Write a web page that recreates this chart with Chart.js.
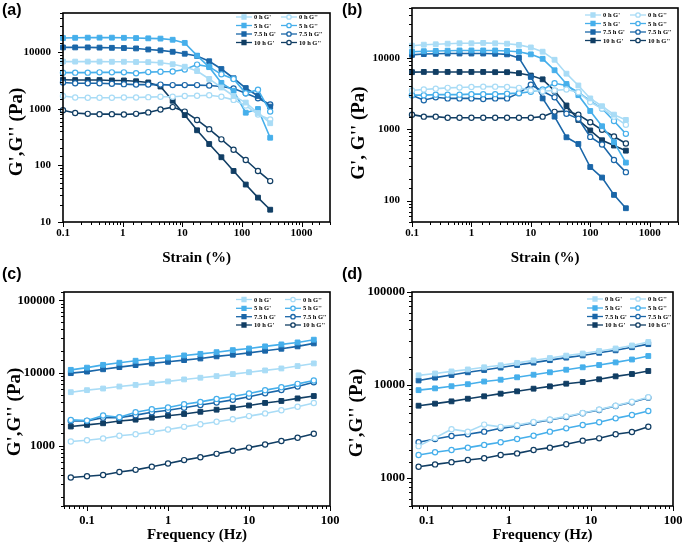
<!DOCTYPE html>
<html>
<head>
<meta charset="utf-8">
<script src="https://cdn.jsdelivr.net/npm/chart.js@4.4.1/dist/chart.umd.min.js"></script>
<style>
  html, body { margin: 0; padding: 0; background: #fff; }
  #wrap { position: relative; width: 685px; height: 552px; overflow: hidden; }
  canvas { position: absolute; }
  .tag { position: absolute; font: bold 16px "Liberation Sans", Arial, sans-serif; line-height: 18px; color: #000; }
</style>
</head>
<body>
<div id="wrap">
  <canvas id="ca" width="342" height="276" style="left:0;top:0"></canvas>
  <canvas id="cb" width="343" height="276" style="left:342px;top:0"></canvas>
  <canvas id="cc" width="342" height="276" style="left:0;top:276px"></canvas>
  <canvas id="cd" width="343" height="276" style="left:342px;top:276px"></canvas>
  <div class="tag" style="left:2px;top:1px">(a)</div>
  <div class="tag" style="left:342px;top:1px">(b)</div>
  <div class="tag" style="left:2px;top:265px">(c)</div>
  <div class="tag" style="left:342px;top:265px">(d)</div>
</div>
<script>
const seriesLabels = ["0 h G'", "0 h G''", "5 h G'", "5 h G''", "7.5 h G'", "7.5 h G''", "10 h G'", "10 h G''"]
const seriesColors = ['#a9dcf6', '#46afeb', '#1a66a8', '#113e64']

// (a) strain sweep
const strainA = [0.1, 0.16, 0.26, 0.41, 0.66, 1.05, 1.68, 2.69, 4.31, 6.9, 11, 17.7, 28.3, 45.3, 72.5, 116, 186, 298]
const a0hGp   = [6900, 6900, 6900, 6900, 6850, 6850, 6800, 6750, 6600, 6200, 5600, 4700, 3400, 2400, 1700, 1300, 850, 560]
const a0hGpp  = [1700, 1600, 1580, 1580, 1580, 1600, 1600, 1620, 1650, 1650, 1700, 1720, 1750, 1650, 1450, 1150, 800, 650]
const a5hGp   = [18000, 18200, 18300, 18300, 18300, 18200, 18000, 17800, 17600, 16800, 14800, 8800, 5500, 2900, 2100, 860, 1000, 310]
const a5hGpp  = [4400, 4400, 4400, 4450, 4450, 4450, 4300, 4500, 4550, 4600, 5000, 6100, 5600, 4100, 3400, 1900, 2200, 900]
const a75hGp  = [12300, 12300, 12300, 12200, 12100, 12000, 11800, 11300, 10900, 10300, 9500, 8700, 7000, 5100, 3500, 2350, 1700, 1100]
const a75hGpp = [2950, 2850, 2850, 2850, 2800, 2750, 2700, 2700, 2700, 2650, 2650, 2650, 2600, 2500, 2300, 1900, 1550, 1200]
const a10hGp  = [3300, 3250, 3250, 3250, 3200, 3200, 3100, 2950, 2500, 1400, 780, 420, 240, 140, 80, 46, 27, 16.5]
const a10hGpp = [950, 850, 820, 810, 810, 800, 820, 870, 980, 1080, 900, 640, 440, 290, 190, 125, 80, 53]

// (b) strain sweep
const strainB = [0.1, 0.158, 0.251, 0.398, 0.631, 1, 1.58, 2.51, 3.98, 6.31, 10, 15.8, 25.1, 39.8, 63.1, 100, 158, 251, 398]
const b0hGp   = [14800, 15300, 15500, 15800, 16000, 16000, 16200, 16000, 15800, 15200, 14000, 12200, 9400, 6000, 4100, 2700, 2100, 1600, 1350]
const b0hGpp  = [3500, 3600, 3700, 3800, 3850, 3900, 3950, 3950, 3900, 3800, 3500, 3400, 3500, 3600, 3300, 2400, 1950, 1500, 1150]
const b5hGp   = [12200, 12400, 12500, 12600, 12700, 12700, 12700, 12700, 12500, 12200, 11200, 9700, 6700, 4300, 3000, 1800, 1100, 660, 340]
const b5hGpp  = [3000, 3000, 3050, 3050, 3050, 3100, 3100, 3100, 3150, 3200, 3350, 3600, 4400, 4100, 3300, 2500, 1950, 1300, 860]
const b75hGp  = [11000, 11300, 11400, 11500, 11500, 11500, 11500, 11400, 11200, 10000, 5400, 2700, 1500, 770, 620, 295, 210, 120, 78]
const b75hGpp = [3000, 2550, 2800, 2700, 2700, 2700, 2650, 2700, 2700, 3200, 4200, 3400, 2800, 1650, 1400, 780, 610, 370, 250]
const b10hGp  = [6300, 6350, 6350, 6350, 6350, 6350, 6350, 6300, 6300, 6100, 5650, 5000, 3450, 2150, 1350, 960, 700, 590, 500]
const b10hGpp = [1600, 1500, 1500, 1450, 1450, 1450, 1450, 1450, 1450, 1450, 1450, 1500, 1750, 1800, 1600, 1250, 980, 790, 630]

// (c) frequency sweep
const freqC   = [0.0631, 0.1, 0.158, 0.251, 0.398, 0.631, 1, 1.58, 2.51, 3.98, 6.31, 10, 15.8, 25.1, 39.8, 63.1]
const c0hGp   = [5480, 5840, 6150, 6550, 6900, 7300, 7700, 8200, 8650, 9100, 9700, 10300, 10900, 11600, 12500, 13600]
const c0hGpp  = [1150, 1200, 1270, 1380, 1450, 1560, 1680, 1830, 1990, 2150, 2330, 2570, 2800, 3100, 3450, 3900]
const c5hGp   = [11100, 11900, 13000, 13900, 14800, 15600, 16400, 17500, 18400, 19400, 20700, 21800, 23300, 24800, 26400, 28800]
const c5hGpp  = [2280, 2230, 2620, 2480, 2900, 3190, 3370, 3750, 4030, 4430, 4770, 5250, 5840, 6420, 7130, 7930]
const c75hGp  = [10000, 10500, 11300, 12100, 12900, 13600, 14300, 15100, 15900, 17000, 17900, 19000, 20300, 21600, 23300, 25600]
const c75hGpp = [2200, 2200, 2450, 2450, 2650, 2900, 3100, 3350, 3650, 3950, 4300, 4750, 5300, 5850, 6550, 7500]
const c10hGp  = [1850, 1950, 2050, 2200, 2300, 2450, 2600, 2750, 2950, 3150, 3350, 3600, 3900, 4150, 4500, 4850]
const c10hGpp = [370, 385, 400, 440, 470, 520, 575, 640, 700, 780, 860, 950, 1050, 1170, 1300, 1470]

// (d) frequency sweep
const freqD   = [0.0794, 0.126, 0.2, 0.316, 0.5, 0.794, 1.26, 2, 3.16, 5, 7.94, 12.6, 20, 31.6, 50]
const d0hGp   = [12700, 13300, 14000, 14700, 15500, 16300, 17300, 18400, 19500, 20700, 21800, 23200, 24700, 26600, 29000]
const d0hGpp  = [2200, 2700, 3350, 3150, 3750, 3550, 3700, 4000, 4250, 4600, 5000, 5450, 6000, 6600, 7400]
const d5hGp   = [8800, 9200, 9700, 10200, 10900, 11400, 12100, 12900, 13700, 14600, 15500, 16400, 17500, 18800, 20500]
const d5hGpp  = [1770, 1890, 2000, 2120, 2270, 2420, 2630, 2850, 3150, 3420, 3720, 3970, 4380, 4750, 5260]
const d75hGp  = [11200, 12000, 12800, 13700, 14500, 15400, 16400, 17400, 18500, 19700, 20800, 22200, 23600, 25500, 27500]
const d75hGpp = [2420, 2630, 2830, 2950, 3150, 3420, 3620, 3930, 4210, 4530, 4960, 5380, 5950, 6510, 7310]
const d10hGp  = [5990, 6300, 6670, 7120, 7560, 8070, 8550, 9130, 9670, 10330, 10770, 11510, 12390, 13130, 14140]
const d10hGpp = [1320, 1400, 1480, 1560, 1630, 1770, 1840, 2000, 2120, 2310, 2520, 2670, 2950, 3120, 3560]

// tick labels
const strainTicks = [0.1, 1, 10, 100, 1000]
const freqTicks = [0.1, 1, 10, 100]
const modTicksA = [10, 100, 1000, 10000]
const modTicksB = [100, 1000, 10000]
const modTicksCD = [1000, 10000, 100000]

const serif = '"Liberation Serif", "Times New Roman", serif'

function tickText(v, list) {
  for (const t of list) {
    if (Math.abs(Math.log10(v) - Math.log10(t)) < 1e-6) return String(t)
  }
  return ''
}

function isDecade(v) {
  const l = Math.log10(v)
  return Math.abs(l - Math.round(l)) < 1e-6
}

// box round the plot + outward tick marks
const framePlugin = {
  id: 'frame',
  afterDraw(chart) {
    const {ctx, chartArea: a, scales} = chart
    ctx.save()
    ctx.strokeStyle = '#000'
    ctx.lineWidth = 1
    scales.x.ticks.forEach(t => {
      if (t.value < scales.x.min || t.value > scales.x.max) return
      const px = Math.round(scales.x.getPixelForValue(t.value)) + 0.5
      const len = isDecade(t.value) ? 5 : 3
      ctx.beginPath(); ctx.moveTo(px, a.bottom); ctx.lineTo(px, a.bottom + len); ctx.stroke()
    })
    scales.y.ticks.forEach(t => {
      if (t.value < scales.y.min || t.value > scales.y.max) return
      const py = Math.round(scales.y.getPixelForValue(t.value)) + 0.5
      const len = isDecade(t.value) ? 5 : 3
      ctx.beginPath(); ctx.moveTo(a.left, py); ctx.lineTo(a.left - len, py); ctx.stroke()
    })
    ctx.lineWidth = 1.6
    ctx.strokeRect(a.left, a.top, a.right - a.left, a.bottom - a.top)
    ctx.restore()
  }
}

// two-column legend inside the plot
const legendPlugin = {
  id: 'miniLegend',
  afterDraw(chart, args, o) {
    const ctx = chart.ctx
    ctx.save()
    ctx.font = 'bold 6.5px ' + serif
    ctx.textBaseline = 'middle'
    chart.data.datasets.forEach((d, i) => {
      const x0 = o.cols[i % 2]
      const y = o.rows[Math.floor(i / 2)]
      ctx.strokeStyle = d.borderColor
      ctx.lineWidth = 1.3
      ctx.beginPath(); ctx.moveTo(x0, y); ctx.lineTo(x0 + o.len, y); ctx.stroke()
      ctx.fillStyle = d.pointBackgroundColor
      Chart.helpers.drawPoint(ctx, {
        pointStyle: d.pointStyle,
        radius: d.pointStyle === 'rect' ? 2.8 : 2.2,
        borderWidth: 1,
        rotation: 0
      }, x0 + o.len / 2, y)
      ctx.fillStyle = '#000'
      ctx.fillText(d.label, x0 + o.len + 2, y + 0.5)
    })
    ctx.restore()
  }
}

const yTitlePlugin = {
  id: 'yTitle',
  afterDraw(chart, args, o) {
    const ctx = chart.ctx
    ctx.save()
    ctx.translate(o.x, o.y)
    ctx.rotate(-Math.PI / 2)
    ctx.font = 'bold 19px ' + serif
    ctx.fillStyle = '#000'
    ctx.textAlign = 'center'
    ctx.textBaseline = 'middle'
    ctx.fillText(o.text, 0, 0)
    ctx.restore()
  }
}

function panel(id, p) {
  const datasets = seriesLabels.map((label, i) => {
    const col = seriesColors[Math.floor(i / 2)]
    const storage = i % 2 === 0
    return {
      label: label,
      data: p.x.map((x, k) => ({x: x, y: p.ys[i][k]})),
      borderColor: col,
      backgroundColor: storage ? col : '#fff',
      pointBackgroundColor: storage ? col : '#fff',
      pointBorderColor: col,
      pointStyle: storage ? 'rect' : 'circle',
      pointRadius: storage ? 3.4 : 2.6,
      pointBorderWidth: storage ? 1 : 1.2,
      borderWidth: 1.6,
      tension: 0,
      clip: false
    }
  })

  return new Chart(document.getElementById(id), {
    type: 'line',
    data: {datasets: datasets},
    options: {
      responsive: false,
      animation: false,
      layout: {padding: {left: 0, top: p.top, right: p.right, bottom: 0}},
      plugins: {
        legend: {display: false},
        tooltip: {enabled: false},
        miniLegend: p.legend,
        yTitle: p.yTitle
      },
      scales: {
        x: {
          type: 'logarithmic',
          min: p.xMin,
          max: p.xMax,
          grid: {display: false, drawTicks: false},
          border: {display: false},
          ticks: {
            autoSkip: false, maxRotation: 0, padding: p.xPad, color: '#000',
            font: {family: serif, size: p.tickSize, weight: 'bold'},
            callback: v => tickText(v, p.xLabels)
          },
          title: {
            display: true, text: p.xTitle, color: '#000',
            font: {family: serif, size: 15, weight: 'bold'},
            padding: {top: 0, bottom: p.xTitlePad}
          },
          afterFit: s => { s.height = p.xH; s.paddingLeft = 0; s.paddingRight = 0 }
        },
        y: {
          type: 'logarithmic',
          min: p.yMin,
          max: p.yMax,
          grid: {display: false, drawTicks: false},
          border: {display: false},
          ticks: {
            autoSkip: false, padding: p.yPad, color: '#000',
            font: {family: serif, size: p.tickSize, weight: 'bold'},
            callback: v => tickText(v, p.yLabels)
          },
          afterFit: s => { s.width = p.yW; s.paddingTop = 0; s.paddingBottom = 0 }
        }
      }
    },
    plugins: [framePlugin, legendPlugin, yTitlePlugin]
  })
}

panel('ca', {
  x: strainA,
  ys: [a0hGp, a0hGpp, a5hGp, a5hGpp, a75hGp, a75hGpp, a10hGp, a10hGpp],
  xMin: 0.1, xMax: 3000, yMin: 10, yMax: 50000,
  xLabels: strainTicks, yLabels: modTicksA,
  xTitle: 'Strain (%)',
  top: 13, right: 12, yW: 63, xH: 54, xPad: 5, yPad: 12, xTitlePad: 9, tickSize: 11,
  yTitle: {text: "G',G'' (Pa)", x: 17, y: 132},
  legend: {cols: [236, 281], len: 16, rows: [17, 25.5, 34, 42.5]}
})

panel('cb', {
  x: strainB,
  ys: [b0hGp, b0hGpp, b5hGp, b5hGpp, b75hGp, b75hGpp, b10hGp, b10hGpp],
  xMin: 0.1, xMax: 3000, yMin: 50, yMax: 50000,
  xLabels: strainTicks, yLabels: modTicksB,
  xTitle: 'Strain (%)',
  top: 8, right: 7, yW: 70, xH: 54, xPad: 5, yPad: 12, xTitlePad: 9, tickSize: 11,
  yTitle: {text: "G', G'' (Pa)", x: 17, y: 133},
  legend: {cols: [243, 288], len: 16, rows: [15, 23.5, 32, 40.5]}
})

panel('cc', {
  x: freqC,
  ys: [c0hGp, c0hGpp, c5hGp, c5hGpp, c75hGp, c75hGpp, c10hGp, c10hGpp],
  xMin: 0.052, xMax: 100, yMin: 150, yMax: 130000,
  xLabels: freqTicks, yLabels: modTicksCD,
  xTitle: 'Frequency (Hz)',
  top: 16, right: 12, yW: 64, xH: 46, xPad: 7, yPad: 9, xTitlePad: 8, tickSize: 12.5,
  yTitle: {text: "G',G'' (Pa)", x: 15, y: 136},
  legend: {cols: [236, 285], len: 16, rows: [23.5, 32.3, 40.7, 49]}
})

panel('cd', {
  x: freqD,
  ys: [d0hGp, d0hGpp, d5hGp, d5hGpp, d75hGp, d75hGpp, d10hGp, d10hGpp],
  xMin: 0.066, xMax: 100, yMin: 500, yMax: 100000,
  xLabels: freqTicks, yLabels: modTicksCD,
  xTitle: 'Frequency (Hz)',
  top: 16, right: 12, yW: 70, xH: 46, xPad: 7, yPad: 7, xTitlePad: 8, tickSize: 12.5,
  yTitle: {text: "G',G'' (Pa)", x: 15, y: 137},
  legend: {cols: [245, 288], len: 16, rows: [23, 32, 40.5, 49]}
})
</script>
</body>
</html>
